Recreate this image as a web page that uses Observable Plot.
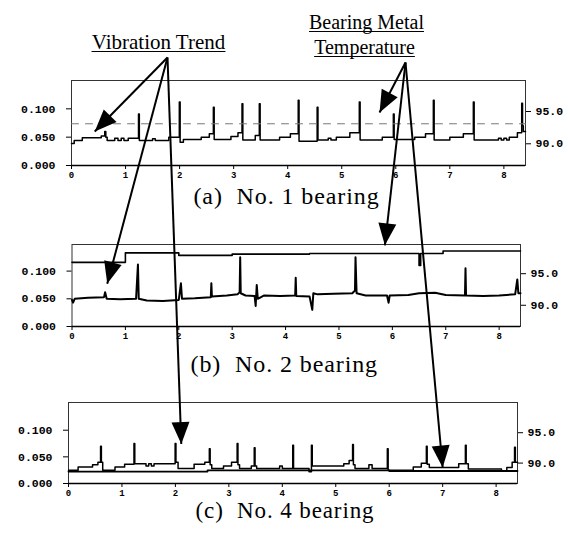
<!DOCTYPE html>
<html><head><meta charset="utf-8">
<script src="https://cdn.jsdelivr.net/npm/d3@7"></script>
<script src="https://cdn.jsdelivr.net/npm/@observablehq/plot@0.6"></script>
<style>
html,body{margin:0;padding:0;background:#fff;}
#chart{position:relative;width:572px;height:540px;overflow:hidden;background:#fff;}
#chart svg{position:absolute;left:0;top:0;}
</style></head><body><div id="chart"></div>
<script>
// ---------------- data ----------------
const xTicks = [0, 1, 2, 3, 4, 5, 6, 7, 8];
const vibTicks = [0, 0.05, 0.1];
const tempTicks = [90, 95];
const captions = ["(a)\u00a0 No. 1 bearing", "(b)\u00a0 No. 2 bearing", "(c)\u00a0 No. 4 bearing"];
const labelTexts = ["Vibration Trend", "Bearing Metal", "Temperature"];

// vibration trend, No.1 bearing  [time, vibration]
const vibA = [[0,0.039],[0.05,0.044],[0.2,0.049],[0.55,0.052],[0.615,0.06],[0.635,0.05],[0.66,0.044],[0.8,0.048],[0.86,0.044],[0.92,0.048],[0.97,0.044],[1.05,0.048],[1.24,0.091],[1.255,0.044],[1.5,0.047],[1.55,0.044],[1.8,0.05],[1.995,0.112],[2.01,0.041],[2.07,0.046],[2.4,0.05],[2.55,0.056],[2.625,0.103],[2.64,0.046],[2.95,0.051],[3.08,0.058],[3.155,0.109],[3.17,0.045],[3.4,0.053],[3.475,0.109],[3.49,0.045],[3.85,0.05],[4.05,0.056],[4.195,0.115],[4.21,0.043],[4.545,0.103],[4.56,0.045],[4.75,0.048],[4.8,0.045],[4.9,0.05],[5.15,0.058],[5.325,0.112],[5.34,0.045],[5.75,0.05],[5.955,0.091],[5.97,0.046],[6.35,0.05],[6.55,0.056],[6.695,0.115],[6.71,0.045],[7.0,0.05],[7.25,0.056],[7.435,0.112],[7.45,0.045],[7.9,0.048],[7.95,0.045],[8.0,0.048],[8.05,0.045],[8.1,0.05],[8.25,0.058],[8.33,0.11],[8.345,0.07],[8.36,0.06],[8.4,0.06]];
// bearing metal temperature, No.1 bearing [time, degC]
const tempA = [[0,93.1],[8.4,93.1]];

// No.2 bearing
const vibB = [[0,0.048],[0.02,0.043],[0.05,0.05],[0.3,0.052],[0.6,0.053],[0.62,0.062],[0.65,0.05],[0.9,0.049],[1.2,0.05],[1.235,0.112],[1.25,0.05],[1.4,0.047],[1.7,0.046],[2.0,0.048],[2.04,0.078],[2.06,0.05],[2.3,0.051],[2.6,0.053],[2.61,0.078],[2.62,0.054],[2.9,0.056],[3.1,0.058],[3.14,0.062],[3.15,0.125],[3.16,0.06],[3.25,0.056],[3.42,0.055],[3.44,0.037],[3.46,0.075],[3.48,0.05],[3.6,0.056],[3.9,0.055],[4.18,0.056],[4.19,0.088],[4.2,0.055],[4.45,0.054],[4.5,0.03],[4.52,0.06],[4.6,0.058],[4.9,0.059],[5.25,0.06],[5.3,0.065],[5.31,0.125],[5.33,0.06],[5.5,0.056],[5.9,0.056],[5.93,0.043],[5.95,0.056],[6.3,0.057],[6.5,0.06],[6.8,0.061],[7.0,0.057],[7.36,0.056],[7.37,0.105],[7.38,0.056],[7.7,0.055],[8.0,0.056],[8.3,0.058],[8.34,0.085],[8.36,0.06],[8.4,0.06]];
const tempB = [[0,96.8],[1.0,98.3],[2.0,97.9],[3.0,98.1],[4.45,98.2],[6.5,96.3],[6.53,98.2],[6.95,98.6],[8.4,98.6]];

// No.4 bearing
const vibC = [[0,0.025],[0.18,0.031],[0.45,0.035],[0.55,0.04],[0.6,0.07],[0.615,0.04],[0.64,0.025],[0.87,0.031],[1.05,0.036],[1.225,0.075],[1.24,0.037],[1.45,0.033],[1.5,0.037],[1.55,0.033],[1.6,0.037],[1.995,0.075],[2.01,0.04],[2.05,0.028],[2.35,0.036],[2.55,0.04],[2.635,0.065],[2.65,0.035],[2.68,0.028],[2.9,0.033],[3.05,0.04],[3.155,0.075],[3.17,0.035],[3.2,0.028],[3.42,0.033],[3.475,0.067],[3.49,0.033],[3.52,0.028],[3.95,0.033],[4.0,0.028],[4.195,0.072],[4.21,0.028],[4.5,0.022],[4.545,0.072],[4.56,0.033],[5.15,0.037],[5.25,0.043],[5.315,0.073],[5.33,0.035],[5.36,0.028],[5.62,0.035],[5.68,0.028],[5.965,0.065],[5.98,0.025],[6.45,0.031],[6.6,0.038],[6.695,0.07],[6.71,0.036],[6.75,0.03],[7.3,0.037],[7.425,0.072],[7.44,0.037],[7.48,0.027],[8.1,0.023],[8.2,0.03],[8.3,0.04],[8.345,0.068],[8.36,0.04],[8.4,0.04]];
const tempC = [[0,88.6],[2.6,88.8],[6.0,88.7],[8.4,88.7]];

// arrow targets (panel, time, vibration-axis value)
const vibTargets = [["a",0.43,0.060],["b",0.66,0.077],["c",2.11,0.074]];
const tempTargets = [["a",5.7,0.0935],["b",5.86,0.1465],["c",7.0,0.030]];

// ---------------- layout ----------------
const W = 572, H = 540;
const XMAX = 8.4;
const T0 = 86.64, K = 0.0114;   // right (temperature) axis vs left (vibration) axis
const MONO = "'Liberation Mono', 'DejaVu Sans Mono', monospace";
const SERIF = "'Liberation Serif', 'DejaVu Serif', serif";
const panels = [
  {id:"a", caption:captions[0], vib:vibA, temp:tempA, left:71, right:525, top:80, bottom:165, yTop:0.150,
   curve:"step-after", vibWidth:1.5, tempStroke:"#777", tempWidth:1, tempDash:"7,7", capDx:-12, capDy:38, capSize:24},
  {id:"b", caption:captions[1], vib:vibB, temp:tempB, left:71.5, right:520, top:244, bottom:326, yTop:0.148,
   curve:"linear", vibWidth:2, tempStroke:"#000", tempWidth:1.6, tempDash:null, capDx:-12, capDy:45, capSize:24},
  {id:"c", caption:captions[2], vib:vibC, temp:tempC, left:68, right:517, top:402, bottom:483, yTop:0.152,
   curve:"step-after", vibWidth:1.5, tempStroke:"#000", tempWidth:1.8, tempDash:null, capDx:-8, capDy:34, capSize:23}
];
const labelLayout = [
  {x:158, base:48, size:21},
  {x:366, base:28, size:20},
  {x:364, base:53, size:20}
];
const vibOrigin = {x:167, y:57};
const tempOrigin = {x:405, y:62};

const root = document.getElementById("chart");
const layerStyle = {background:"none", overflow:"visible"};
const scales = {};

for (const p of panels) {
  const margins = {width:W, height:H, marginLeft:p.left, marginRight:W - p.right, marginTop:p.top, marginBottom:H - p.bottom};
  const vibPlot = Plot.plot({
    ...margins,
    style:{...layerStyle, fontFamily:MONO, fontSize:"11.5px", fontWeight:"bold", color:"#000"},
    x:{domain:[0, XMAX], ticks:xTicks, tickFormat:"d", tickSize:4, tickPadding:2, label:null},
    y:{domain:[0, p.yTop], ticks:vibTicks, tickFormat:".3f", tickSize:5, tickPadding:11, label:null},
    marks:[
      Plot.frame({stroke:"#333", strokeWidth:1}),
      Plot.line(p.vib, {x:d => d[0], y:d => d[1], curve:p.curve, stroke:"#000", strokeWidth:p.vibWidth, strokeLinejoin:"round"}),
      Plot.ruleY([0], {stroke:"#000", strokeWidth:1.5}),
      Plot.text([p.caption], {text:d => d, frameAnchor:"bottom", dx:p.capDx, dy:p.capDy, fontSize:p.capSize, fontFamily:SERIF, fontWeight:"normal", fill:"#000"})
    ]
  });
  d3.select(vibPlot).selectAll("g[aria-label^='x-axis']").attr("font-size", "9px");
  d3.select(vibPlot).selectAll("text").filter(function() { return this.textContent.includes("bearing"); })
    .attr("letter-spacing", "0.9px");
  const tempPlot = Plot.plot({
    ...margins,
    style:{...layerStyle, fontFamily:MONO, fontSize:"11.5px", fontWeight:"bold", color:"#000"},
    x:{domain:[0, XMAX], axis:null},
    y:{domain:[T0, T0 + p.yTop / K], axis:"right", ticks:tempTicks, tickFormat:".1f", tickSize:5, tickPadding:5, label:null},
    marks:[
      Plot.line(p.temp, {x:d => d[0], y:d => d[1], curve:"step-after", stroke:p.tempStroke, strokeWidth:p.tempWidth, strokeDasharray:p.tempDash})
    ]
  });
  root.appendChild(vibPlot);
  root.appendChild(tempPlot);
  scales[p.id] = {x:vibPlot.scale("x"), y:vibPlot.scale("y")};
}

// ---------------- annotation layer ----------------
const ctx = document.createElement("canvas").getContext("2d");
const labels = labelTexts.map((t, i) => {
  const L = labelLayout[i];
  ctx.font = `${L.size}px 'Liberation Serif'`;
  const w = ctx.measureText(t).width;
  return {text:t, x:L.x, y:L.base - 0.32 * L.size, size:L.size, x1:L.x - w / 2, x2:L.x + w / 2, yu:L.base + 3};
});
function toPixels(origin, targets) {
  return targets.map(([id, tx, ty]) => {
    const s = scales[id];
    const x2 = s.x.apply(tx), y2 = s.y.apply(ty);
    const angle = Math.atan2(x2 - origin.x, -(y2 - origin.y)) * 180 / Math.PI;
    return {x1:origin.x, y1:origin.y, x2, y2, angle};
  });
}
const arrows = [...toPixels(vibOrigin, vibTargets), ...toPixels(tempOrigin, tempTargets)];
const head = {draw(c) { const L = 22, w = 9; c.moveTo(0, 0); c.lineTo(-w, L); c.lineTo(w, L); c.closePath(); }};

const overlay = Plot.plot({
  width:W, height:H, margin:0,
  style:layerStyle,
  x:{type:"identity", axis:null},
  y:{type:"identity", axis:null},
  marks:[
    Plot.link(arrows, {x1:"x1", y1:"y1", x2:"x2", y2:"y2", stroke:"#000", strokeWidth:2}),
    Plot.dot(arrows, {x:"x2", y:"y2", symbol:head, rotate:"angle", r:6, fill:"#000", stroke:"none"}),
    Plot.text(labels, {x:"x", y:"y", text:"text", fontSize:d => d.size, fontFamily:SERIF, fill:"#000"}),
    Plot.link(labels, {x1:"x1", x2:"x2", y1:"yu", y2:"yu", stroke:"#000", strokeWidth:1})
  ]
});
root.appendChild(overlay);
</script></body></html>
